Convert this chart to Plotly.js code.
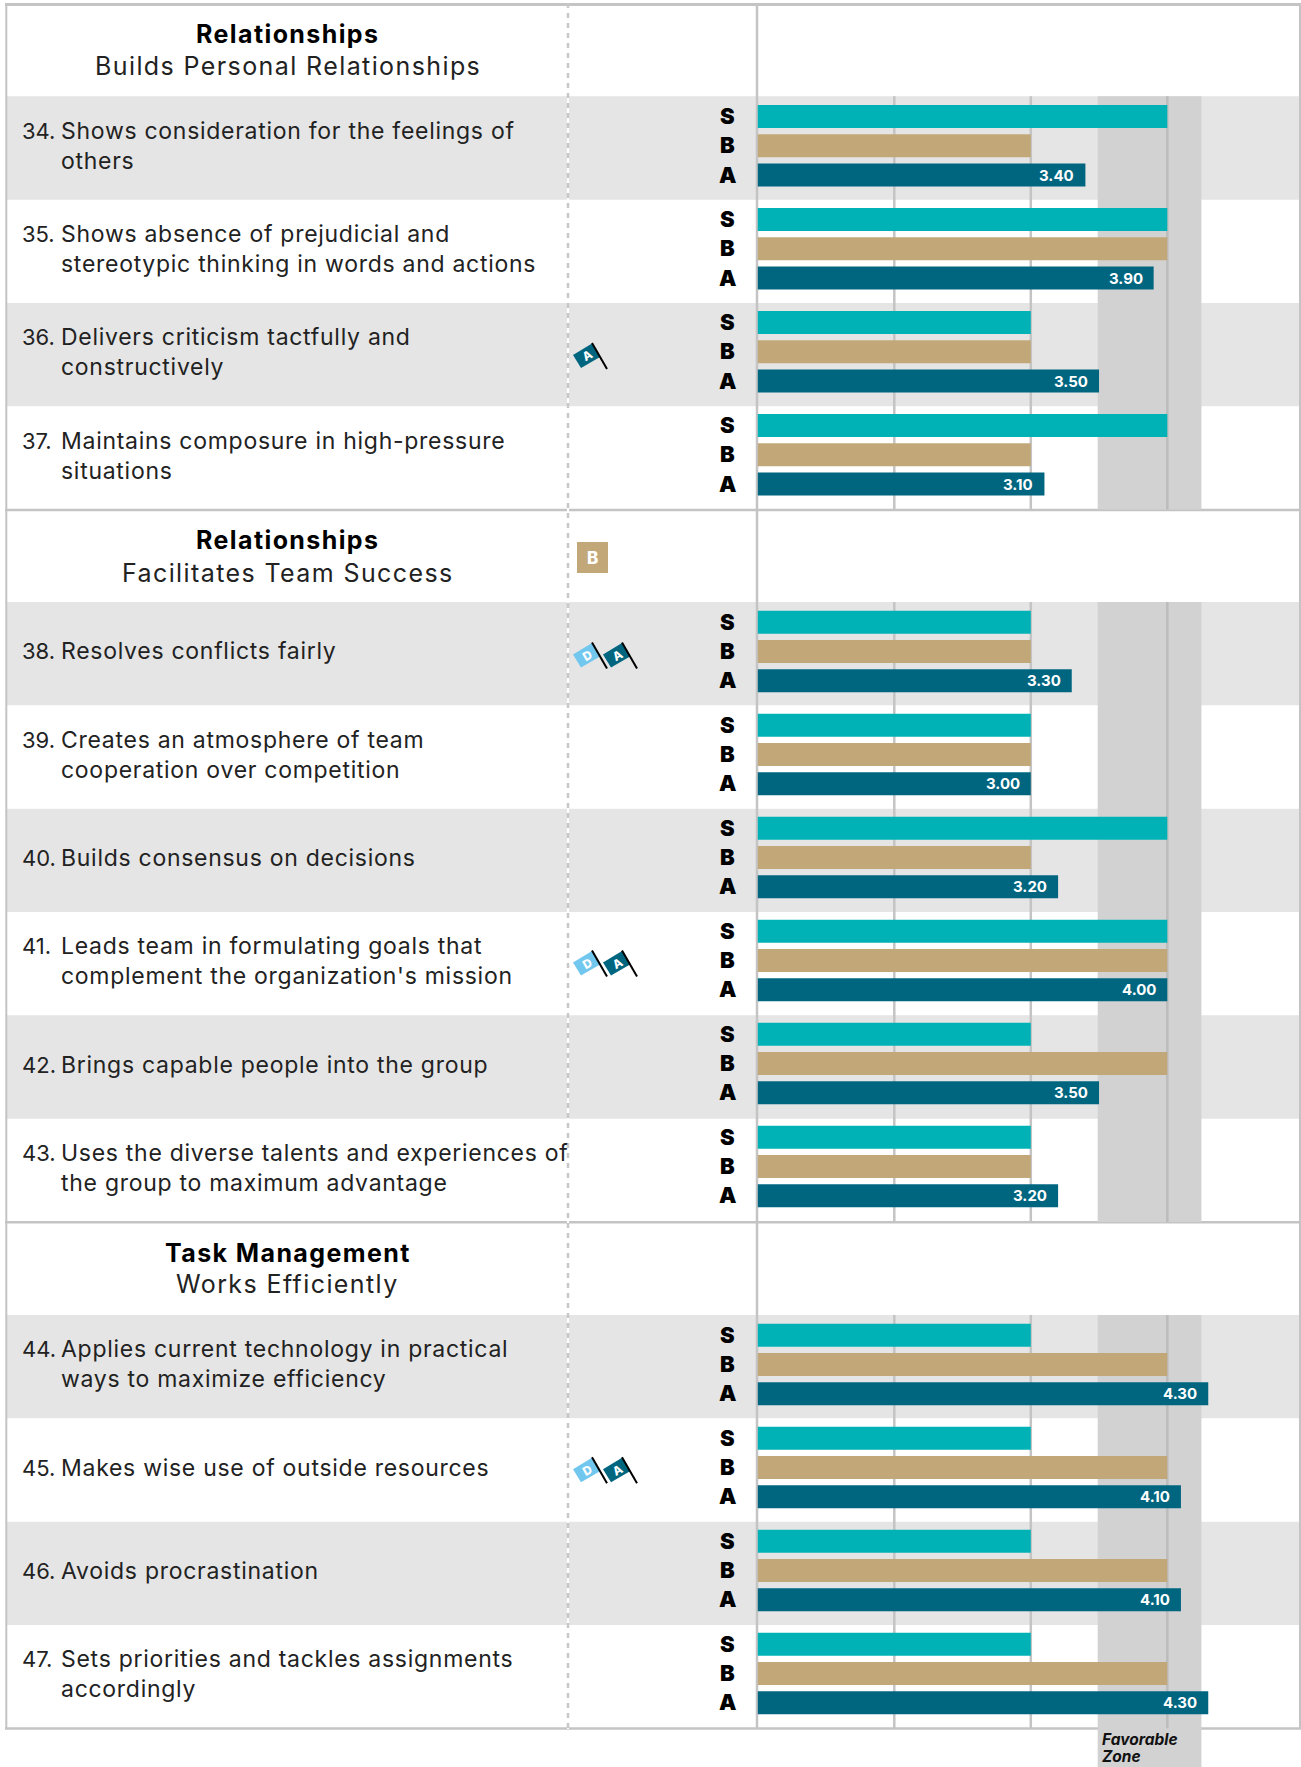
<!DOCTYPE html>
<html><head><meta charset="utf-8">
<script src="https://cdn.plot.ly/plotly-3.0.1.min.js"></script>
<style>html,body{margin:0;padding:0;background:#fff}#chart{width:1301px;height:1767px}
.annotation-text[style*="font-size: 23px"]{letter-spacing:0.72px}
.annotation-text[style*="font-size: 25px"]{letter-spacing:1.4px}
</style>
</head><body><div id="chart"></div>
<script>
// ---- data ----
const itemNumbers = [34,35,36,37,38,39,40,41,42,43,44,45,46,47];
const itemLabels = [
 "Shows consideration for the feelings of<br>others",
 "Shows absence of prejudicial and<br>stereotypic thinking in words and actions",
 "Delivers criticism tactfully and<br>constructively",
 "Maintains composure in high-pressure<br>situations",
 "Resolves conflicts fairly",
 "Creates an atmosphere of team<br>cooperation over competition",
 "Builds consensus on decisions",
 "Leads team in formulating goals that<br>complement the organization's mission",
 "Brings capable people into the group",
 "Uses the diverse talents and experiences of<br>the group to maximum advantage",
 "Applies current technology in practical<br>ways to maximize efficiency",
 "Makes wise use of outside resources",
 "Avoids procrastination",
 "Sets priorities and tackles assignments<br>accordingly"
];
const seriesS = [4,4,3,4, 3,3,4,4,3,3, 3,3,3,3];
const seriesB = [3,4,3,3, 3,3,3,4,4,3, 4,4,4,4];
const seriesA = [3.4,3.9,3.5,3.1, 3.3,3.0,3.2,4.0,3.5,3.2, 4.3,4.1,4.1,4.3];
const sectionTitles = ["Relationships","Relationships","Task Management"];
const sectionSubtitles = ["Builds Personal Relationships","Facilitates Team Success","Works Efficiently"];
const sectionCounts = [4,6,4];
const flagsByItem = {36:["A"],38:["D","A"],41:["D","A"],45:["D","A"]};
const favorableZone = [3.49,4.25];
const gridValues = [2,3,4];

// ---- layout constants ----
const W=1301,H=1767,FONT='Inter, "Noto Sans", sans-serif',TXT='#222222';
const X0=757.8, UNIT=136.5, ROW=103.33, BARPITCH=103;
const sectionStarts=[96.3,602,1315];
const headerCenters=[[34,66],[540,572.5],[1252.5,1283.5]];
const LINE='#c4c4c4',BAND='#e5e5e5',ZONE='#d2d2d2';
const COLORS={S:'#00b2b6',B:'#c2a878',A:'#006680',D:'#72c7ee'};
const px=x=>x/W;

const rowTop=[],barCenter=[];let idx=0;
sectionCounts.forEach((c,s)=>{for(let i=0;i<c;i++){rowTop[idx]=sectionStarts[s]+i*ROW;barCenter[idx]=sectionStarts[s]+20.3+i*BARPITCH;idx++;}});
const sectionEnd=s=>sectionStarts[s]+sectionCounts[s]*ROW;

const shapes=[],annotations=[];
const hline=(y,x0,x1,c,w)=>shapes.push({type:'line',xref:'paper',yref:'y',x0:px(x0),x1:px(x1),y0:y,y1:y,layer:'below',line:{color:c,width:w}});
const vlinePaper=(x,y0,y1,c,w,dash)=>shapes.push({type:'line',xref:'paper',yref:'y',x0:px(x),x1:px(x),y0,y1,layer:'below',line:{color:c,width:w,dash:dash||'solid'}});
const label=(o)=>annotations.push(Object.assign({showarrow:false,xref:'paper',yref:'y',yanchor:'middle',borderpad:0},o));

// row bands
itemNumbers.forEach((n,i)=>{ if(n%2===0) shapes.push({type:'rect',xref:'paper',yref:'y',x0:px(6),x1:1,y0:rowTop[i],y1:rowTop[i]+ROW,layer:'below',line:{width:0},fillcolor:BAND}); });

// frame
hline(4.5,5,W,LINE,3);
sectionCounts.forEach((c,s)=>hline(sectionEnd(s)+0.3,5,W,LINE,2.5));
vlinePaper(6.3,3,1729,LINE,2);
vlinePaper(1300,3,1729,LINE,2);

// favourable zone & grid in each section
sectionCounts.forEach((c,s)=>{
  const y0=sectionStarts[s], y1=s===2?H:sectionEnd(s);
  shapes.push({type:'rect',xref:'x',yref:'y',x0:favorableZone[0],x1:favorableZone[1],y0,y1,layer:'below',line:{width:0},fillcolor:ZONE});
  gridValues.forEach(v=>shapes.push({type:'line',xref:'x',yref:'y',x0:v,x1:v,y0,y1:sectionEnd(s),layer:'below',line:{color:v===4?'#bcbcbc':LINE,width:2.5}}));
});
vlinePaper(757,3,1729,LINE,2.5);
vlinePaper(568,3,1729,'#ffffff',2);
vlinePaper(568,3,1729,'#c8c8c8',2.5,'5px,5px');

// section headers
sectionTitles.forEach((t,s)=>{
  label({x:px(287.5),y:headerCenters[s][0],xanchor:'center',text:t,font:{family:FONT,size:25,color:'#000',weight:700}});
  label({x:px(287.5),y:headerCenters[s][1],xanchor:'center',text:sectionSubtitles[s],font:{family:FONT,size:25,color:TXT,weight:400}});
});

// rows
const flagShift={36:0,38:0.5,41:-1.5,45:-1};
itemNumbers.forEach((n,i)=>{
  const cy=rowTop[i]+49.3;
  label({x:px(20.5),y:cy-(itemLabels[i].includes('<br>')?14.9:0),xanchor:'left',text:n+'.',font:{family:FONT,size:22,color:TXT,weight:400}});
  label({x:px(59.5),y:cy,xanchor:'left',align:'left',text:itemLabels[i],font:{family:FONT,size:23,color:TXT,weight:400}});
  ['S','B','A'].forEach((k,j)=>{
    label({x:px(k==='A'?728:727.5),y:barCenter[i]+j*29.2-0.5,xanchor:'center',text:k,font:{family:FONT,size:22,color:'#000',weight:900}});
  });
  annotations.push({showarrow:false,xref:'x',yref:'y',x:seriesA[i],y:barCenter[i]+58.4,xanchor:'right',yanchor:'middle',xshift:-10,borderpad:0,
    text:seriesA[i].toFixed(2),font:{family:FONT,size:15,color:'#fff',weight:700}});
  (flagsByItem[n]||[]).forEach((f,j)=>{
    const dx=j*30, t=rowTop[i]+flagShift[n];
    const xs=[573,592,600,581].map(v=>px(v+dx)), ys=[52,40.5,54,65].map(v=>t+v);
    shapes.push({type:'path',xref:'paper',yref:'y',layer:'above',line:{width:0},fillcolor:COLORS[f],
      path:`M${xs[0]},${ys[0]}L${xs[1]},${ys[1]}L${xs[2]},${ys[2]}L${xs[3]},${ys[3]}Z`});
    shapes.push({type:'line',xref:'paper',yref:'y',layer:'above',x0:px(592+dx),x1:px(607+dx),y0:t+40,y1:t+66,line:{color:'#000',width:2}});
    label({x:px(587+dx),y:t+53,xanchor:'center',text:f,textangle:-30,font:{family:FONT,size:12,color:'#fff',weight:800}});
  });
});

// B box in the second header
shapes.push({type:'rect',xref:'paper',yref:'y',x0:px(577),x1:px(608),y0:542,y1:573,layer:'above',line:{width:0},fillcolor:COLORS.B});
label({x:px(592.5),y:557.5,xanchor:'center',text:'B',font:{family:FONT,size:17,color:'#fff',weight:800}});

// favourable zone label
['Favorable','Zone'].forEach((t,i)=>annotations.push({showarrow:false,xref:'paper',yref:'y',x:px(1100.5),y:[1739.5,1756.5][i],xanchor:'left',yanchor:'middle',borderpad:0,
  text:'<b><i>'+t+'</i></b>',font:{family:FONT,size:15.5,color:'#111'}}));

const barTrace=(name,vals,off,color)=>({type:'bar',orientation:'h',name,x:vals,y:barCenter.map(t=>t+off),width:23,marker:{color,line:{width:0}},hoverinfo:'x+name'});
const traces=[barTrace('S',seriesS,0,COLORS.S),barTrace('B',seriesB,29.2,COLORS.B),barTrace('A',seriesA,58.4,COLORS.A)];

Plotly.newPlot('chart',traces,{
  width:W,height:H,margin:{l:0,r:0,t:0,b:0,pad:0},paper_bgcolor:'#fff',plot_bgcolor:'rgba(0,0,0,0)',
  showlegend:false,barmode:'overlay',
  xaxis:{domain:[px(X0),1],range:[1,1+(W-X0)/UNIT],showgrid:false,zeroline:false,showticklabels:false,ticks:'',showline:false},
  yaxis:{domain:[0,1],range:[H,0],showgrid:false,zeroline:false,showticklabels:false,ticks:'',showline:false},
  shapes,annotations,font:{family:FONT}
},{displayModeBar:false,staticPlot:true});
</script></body></html>
